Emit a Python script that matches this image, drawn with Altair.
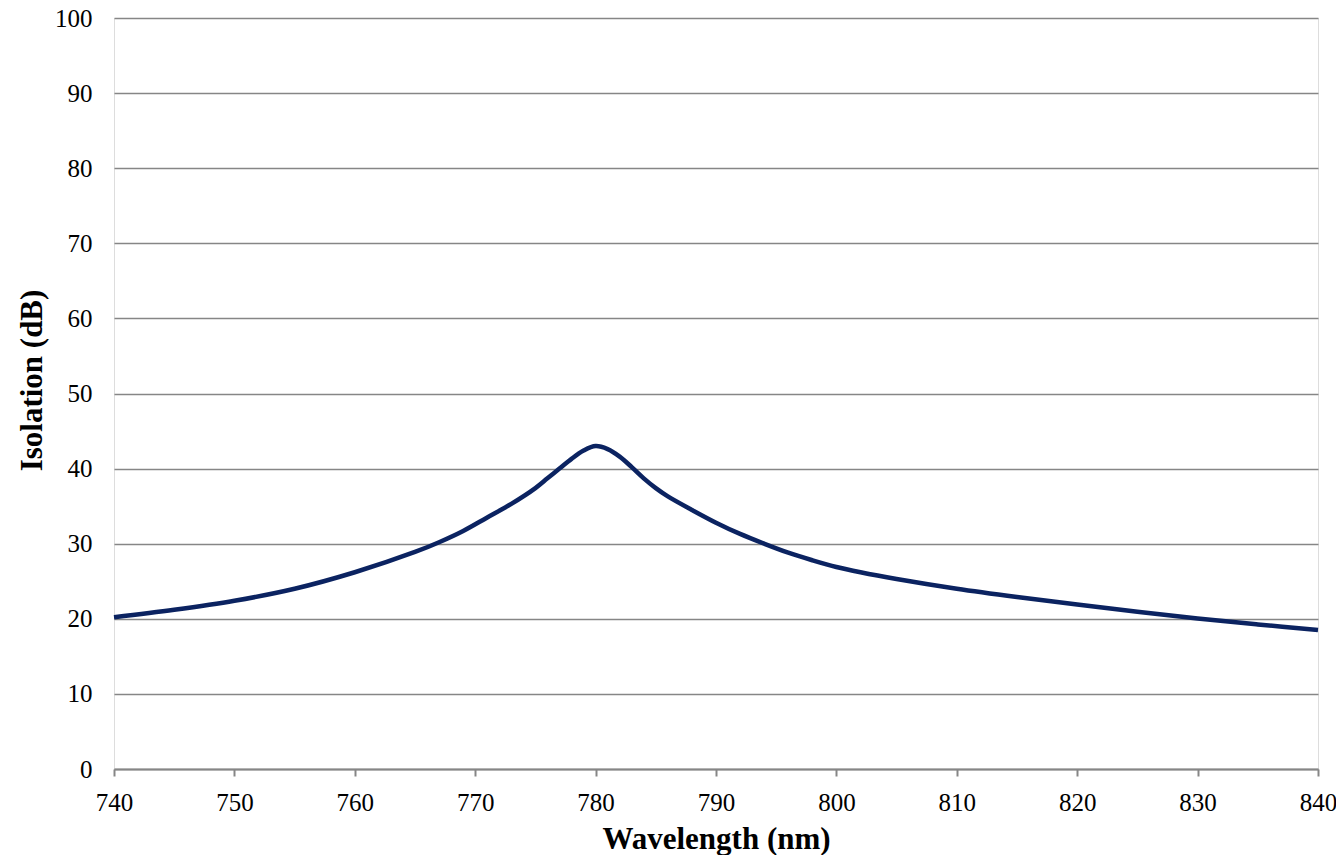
import altair as alt
import pandas as pd

wavelength = [740, 745, 750, 755, 760, 765, 767, 769, 771, 773, 775, 776, 777, 778, 779, 780,
              781, 782, 783, 784, 785, 786, 788, 790, 792, 794, 796, 798, 800, 802,
              805, 810, 815, 820, 825, 830, 835, 840]
isolation = [20.2, 21.2, 22.4, 24.0, 26.2, 28.9, 30.2, 31.7, 33.5, 35.3, 37.4, 38.7, 40.0, 41.3, 42.4, 43.0,
             42.6, 41.6, 40.2, 38.7, 37.4, 36.3, 34.5, 32.8, 31.3, 30.0, 28.8, 27.8, 26.9, 26.2,
             25.3, 24.0, 22.9, 21.9, 20.95, 20.05, 19.25, 18.5]
x_ticks = [740, 750, 760, 770, 780, 790, 800, 810, 820, 830, 840]
y_ticks = [0, 10, 20, 30, 40, 50, 60, 70, 80, 90, 100]

df = pd.DataFrame({"Wavelength": wavelength, "Isolation": isolation})

FONT = "Liberation Serif"
GRAY = "#868686"

chart = alt.Chart(df).mark_line(
    color="#0B2361", strokeWidth=4.5, interpolate="catmull-rom"
).encode(
    x=alt.X("Wavelength:Q",
            scale=alt.Scale(domain=[740, 840], nice=False, zero=False),
            axis=alt.Axis(values=x_ticks, title="Wavelength (nm)", grid=False,
                          labelFlush=False, labelOverlap=False,
                          domainColor=GRAY, domainWidth=2, tickColor=GRAY, tickWidth=2,
                          tickSize=7, labelPadding=14, labelFont=FONT, labelFontSize=25,
                          labelColor="black", titleFont=FONT, titleFontSize=31,
                          titleFontWeight="bold", titleColor="black",
                          titleBaseline="alphabetic", titleY=79, titleX=602)),
    y=alt.Y("Isolation:Q",
            scale=alt.Scale(domain=[0, 100], nice=False),
            axis=alt.Axis(values=y_ticks, title="Isolation (dB)", grid=True,
                          labelFlush=False, labelOverlap=False,
                          gridColor=GRAY, gridWidth=1.5, domain=False, ticks=False,
                          tickSize=0, labelPadding=22, labelFont=FONT, labelFontSize=25,
                          labelColor="black", titleFont=FONT, titleFontSize=31,
                          titleFontWeight="bold", titleColor="black",
                          titleBaseline="alphabetic", titleAngle=-90,
                          titleX=-73, titleY=362)),
).properties(
    width=1204, height=751,
    autosize=alt.AutoSizeParams(type="none"),
    padding={"left": 106, "top": 10, "right": 18, "bottom": 86},
).configure_view(
    stroke=GRAY, strokeWidth=2
).configure(background="white")

chart.save("out.html", embed_options={"renderer": "svg", "actions": False})
